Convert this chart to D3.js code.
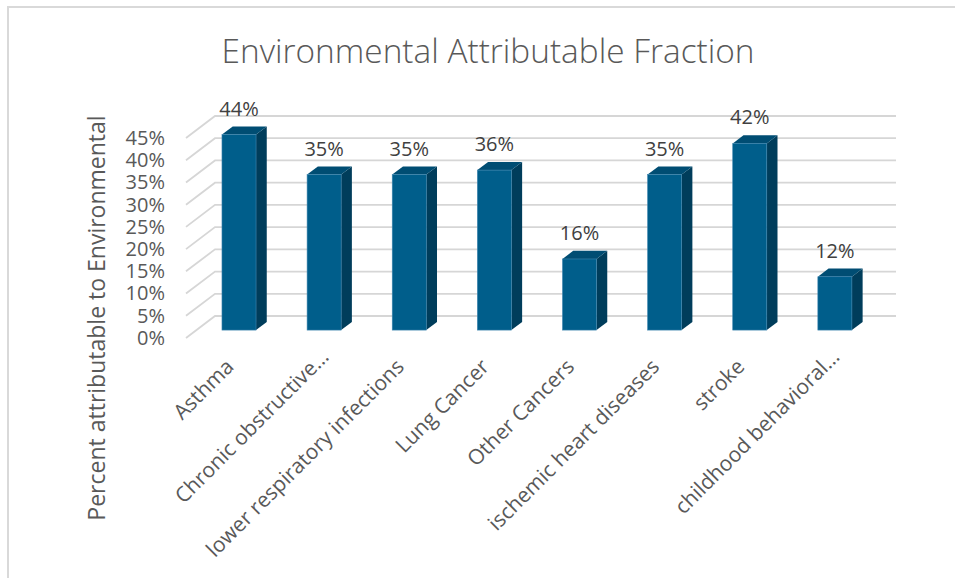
<!DOCTYPE html>
<html>
<head>
<meta charset="utf-8">
<script src="https://cdn.jsdelivr.net/npm/d3@7"></script>
<style>
  html, body { margin: 0; padding: 0; background: #fff; }
  svg { display: block; }
  text { font-family: "Open Sans", "Noto Sans", sans-serif; }
</style>
</head>
<body>
<svg id="chart" width="955" height="578"></svg>
<script>
const categories = ["Asthma", "Chronic obstructive…", "lower respiratory infections", "Lung Cancer",
  "Other Cancers", "ischemic heart diseases", "stroke", "childhood behavioral…"];
const values = [0.44, 0.35, 0.35, 0.36, 0.16, 0.35, 0.42, 0.12];
const yTicks = [0, 0.05, 0.10, 0.15, 0.20, 0.25, 0.30, 0.35, 0.40, 0.45];
const chartTitle = "Environmental Attributable Fraction";
const yAxisTitle = "Percent attributable to Environmental";

const svg = d3.select("#chart");

// chart frame
svg.append("rect").attr("x", 8).attr("y", 7).attr("width", 960).attr("height", 600)
  .attr("fill", "#fff").attr("stroke", "#d9d9d9").attr("stroke-width", 2);

// 3D geometry
const DX = 29, DY = -22;          // depth vector of floor
const t0 = 0.36, t1 = 0.73;       // bar depth range (fraction)

const x = d3.scaleBand().domain(categories).range([186, 867])
  .paddingInner(0.6).paddingOuter(0.3);
const y = d3.scaleLinear().domain([0, 0.45]).range([338, 138]);

// gridlines: side-wall diagonal + back wall horizontal
const grid = svg.append("g");
yTicks.forEach(v => {
  const yy = y(v);
  grid.append("path")
    .attr("d", `M186,${yy} L${186 + DX},${yy + DY} L${867 + DX},${yy + DY}`)
    .attr("fill", "none").attr("stroke", "#d6d6d6").attr("stroke-width", 1.8);
});

// y axis labels
const yAxis = d3.axisLeft(y).tickValues(yTicks).tickFormat(d3.format(".0%")).tickSize(0).tickPadding(0);
const ga = svg.append("g").attr("transform", "translate(165,0)").call(yAxis);
ga.select(".domain").remove();
ga.selectAll("text").attr("font-size", 20).attr("fill", "#595959")
  .attr("font-family", "'Open Sans', sans-serif");

// bars
const fx = DX * t0, fy = DY * t0;
const bdx = DX * (t1 - t0), bdy = DY * (t1 - t0);
const bw = x.bandwidth();
const bars = svg.append("g");
categories.forEach((c, i) => {
  const x0 = x(c) + fx, x1 = x0 + bw;
  const yb = y(0) + fy, yt = y(values[i]) + fy;
  // side face
  bars.append("path")
    .attr("d", `M${x1},${yt} L${x1 + bdx},${yt + bdy} L${x1 + bdx},${yb + bdy} L${x1},${yb} Z`)
    .attr("fill", "#003d5b");
  // top face
  bars.append("path")
    .attr("d", `M${x0},${yt} L${x0 + bdx},${yt + bdy} L${x1 + bdx},${yt + bdy} L${x1},${yt} Z`)
    .attr("fill", "#004d73");
  // front face
  bars.append("rect")
    .attr("x", x0).attr("y", yt).attr("width", bw).attr("height", yb - yt)
    .attr("fill", "#005e8b").attr("stroke", "#3f86b0").attr("stroke-width", 0.6);
  // data label
  svg.append("text")
    .attr("x", x0 + bw / 2).attr("y", yt - 19)
    .attr("text-anchor", "middle").attr("font-size", 20).attr("fill", "#404040")
    .text(d3.format(".0%")(values[i]));
});

// category labels
categories.forEach(c => {
  const cx = x(c) + fx + bw / 2;
  const truncated = c.endsWith("…");
  svg.append("text")
    .attr("transform", `translate(${cx - 4},${368}) rotate(-45)`)
    .attr("text-anchor", "end")
    .attr("dx", truncated ? 14 : 0)
    .attr("font-size", 21).attr("fill", "#595959")
    .text(c);
});

// y axis title
svg.append("text")
  .attr("transform", "translate(105,318) rotate(-90)")
  .attr("text-anchor", "middle").attr("font-size", 23).attr("fill", "#595959")
  .text(yAxisTitle);

// title
svg.append("text")
  .attr("x", 488).attr("y", 63)
  .attr("text-anchor", "middle").attr("font-size", 33).attr("font-weight", 300)
  .attr("fill", "#595959")
  .attr("textLength", 533).attr("lengthAdjust", "spacingAndGlyphs")
  .text(chartTitle);
</script>
</body>
</html>
